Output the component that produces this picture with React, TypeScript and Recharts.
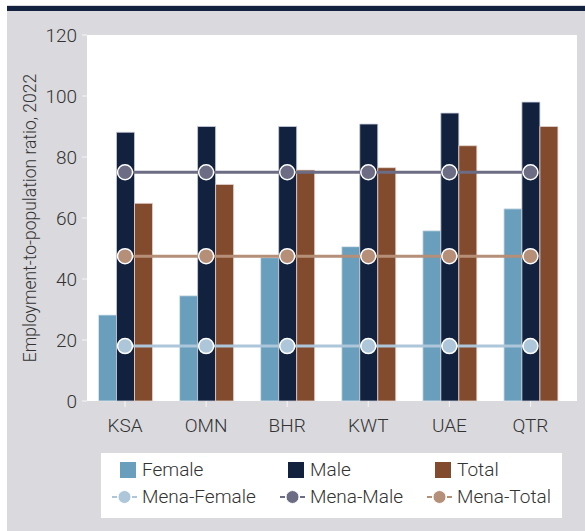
import React from 'react';
import { ComposedChart, Bar, Line, XAxis, YAxis, Legend, Label } from 'recharts';

const categories = ['KSA', 'OMN', 'BHR', 'KWT', 'UAE', 'QTR'];
const femaleValues = [28.2, 34.5, 47, 50.6, 55.8, 63];
const maleValues = [88.1, 90, 90, 90.8, 94.4, 98];
const totalValues = [64.8, 71, 75.7, 76.5, 83.7, 90];
const menaFemaleValues = [18, 18, 18, 18, 18, 18];
const menaMaleValues = [75, 75, 75, 75, 75, 75];
const menaTotalValues = [47.5, 47.5, 47.5, 47.5, 47.5, 47.5];
const yTicks = [0, 20, 40, 60, 80, 100, 120];
const seriesOrder = ['Female', 'Male', 'Total', 'Mena-Female', 'Mena-Male', 'Mena-Total'];
const yAxisTitle = 'Employment-to-population ratio, 2022';

const COLORS: Record<string, string> = {
  Female: '#699fbc',
  Male: '#11213e',
  Total: '#834b2e',
  'Mena-Female': '#aec6da',
  'Mena-Male': '#6c6d84',
  'Mena-Total': '#b58f78',
};

const data = categories.map((c, i) => ({
  category: c,
  Female: femaleValues[i],
  Male: maleValues[i],
  Total: totalValues[i],
  'Mena-Female': menaFemaleValues[i],
  'Mena-Male': menaMaleValues[i],
  'Mena-Total': menaTotalValues[i],
}));

const FONT = 'Roboto, "Liberation Sans", Arial, sans-serif';
const WEIGHT = 300;
const TEXT = '#333333';
const BG = '#dadade';
const Y_TICK_MARGIN = 7.5;

const YTick = (props: any) => {
  const { x, y, payload } = props;
  const axisRight = x + Y_TICK_MARGIN;
  return (
    <g>
      <line x1={axisRight - 2.5} x2={axisRight + 2.5} y1={y} y2={y} stroke="#f2f2f4" strokeWidth={1.2} />
      <text x={x} y={y} dy="0.355em" textAnchor="end" fontSize={19} fontWeight={WEIGHT} fontFamily={FONT} fill={TEXT}>
        {payload.value}
      </text>
    </g>
  );
};

const LegendContent = (props: any) => {
  const payload = [...(props.payload || [])].sort(
    (a: any, b: any) => seriesOrder.indexOf(a.value) - seriesOrder.indexOf(b.value)
  );
  const colX = [11, 179, 326];
  const rowY = [17, 44];
  return (
    <div style={{ position: 'relative', width: 461, height: 65, background: '#ffffff' }}>
      {payload.map((entry: any, i: number) => {
        const col = i % 3;
        const row = Math.floor(i / 3);
        const color = COLORS[entry.value] || entry.color;
        const isSquare = entry.type === 'square';
        return (
          <div
            key={entry.value}
            style={{
              position: 'absolute',
              left: colX[col],
              top: rowY[row] - 12,
              height: 24,
              display: 'flex',
              alignItems: 'center',
              whiteSpace: 'nowrap',
            }}
          >
            <svg width={30} height={24} style={{ display: 'block' }}>
              {isSquare ? (
                <rect x={8} y={4} width={16} height={16} fill={color} />
              ) : (
                <g>
                  <line x1={0} x2={5} y1={12} y2={12} stroke={color} strokeWidth={2} />
                  <line x1={20} x2={25} y1={12} y2={12} stroke={color} strokeWidth={2} />
                  <circle cx={12.5} cy={12} r={6.5} fill={color} stroke="#ffffff" strokeWidth={1} />
                </g>
              )}
            </svg>
            <span style={{ fontFamily: FONT, fontWeight: WEIGHT, fontSize: 19, color: TEXT, lineHeight: '24px' }}>{entry.value}</span>
          </div>
        );
      })}
    </div>
  );
};

const dotStyle = (color: string) => ({ r: 7.5, fill: color, stroke: '#ffffff', strokeWidth: 1.5 });

export default function App() {
  return (
    <div style={{ position: 'absolute', left: 0, top: 0, width: 585, height: 531, background: '#ffffff', overflow: 'hidden' }}>
      <div style={{ position: 'absolute', left: 7, top: 5, right: 0, bottom: 0, background: BG }} />
      <div style={{ position: 'absolute', left: 7, top: 5.5, right: 0, height: 5.5, background: '#13223f' }} />
      <div style={{ position: 'absolute', left: 87, top: 35, width: 490, height: 366, background: '#ffffff' }} />
      <div style={{ position: 'absolute', left: 0, top: 0 }}>
        <ComposedChart
          width={585}
          height={531}
          data={data}
          margin={{ top: 35, right: 14, left: 0, bottom: 35 }}
          barGap={0}
        >
          <XAxis
            dataKey="category"
            axisLine={false}
            tickSize={6}
            tickMargin={12}
            height={30}
            tickLine={{ stroke: '#f2f2f4', strokeWidth: 1.2 }}
            tick={{ fontSize: 19, fontWeight: WEIGHT, fontFamily: FONT, fill: TEXT }}
            interval={0}
          />
          <YAxis
            width={84.5}
            domain={[0, 120]}
            ticks={yTicks}
            axisLine={false}
            tickLine={false}
            tickSize={0}
            tickMargin={Y_TICK_MARGIN}
            tick={<YTick />}
            interval={0}
          >
            <Label
              content={(p: any) => {
                const vb = p.viewBox || {};
                const cx = (vb.x || 0) + 30;
                const cy = (vb.y || 0) + (vb.height || 0) / 2;
                return (
                  <text
                    x={cx}
                    y={cy}
                    transform={`rotate(-90, ${cx}, ${cy})`}
                    textAnchor="middle"
                    dominantBaseline="central"
                    fontSize={17.5}
                    fontWeight={WEIGHT}
                    fontFamily={FONT}
                    fill={TEXT}
                  >
                    {yAxisTitle}
                  </text>
                );
              }}
            />
          </YAxis>
          <Legend
            verticalAlign="bottom"
            content={<LegendContent />}
            wrapperStyle={{ left: 101, top: 453, bottom: 'auto', width: 461, height: 65 }}
          />
          <Bar dataKey="Female" name="Female" fill={COLORS.Female} stroke="#dfe6ee" strokeWidth={0.8} barSize={18} legendType="square" isAnimationActive={false} />
          <Bar dataKey="Male" name="Male" fill={COLORS.Male} stroke="#c9cdd8" strokeWidth={0.8} barSize={18} legendType="square" isAnimationActive={false} />
          <Bar dataKey="Total" name="Total" fill={COLORS.Total} stroke="#e3d6cf" strokeWidth={0.8} barSize={18} legendType="square" isAnimationActive={false} />
          <Line dataKey="Mena-Female" name="Mena-Female" stroke={COLORS['Mena-Female']} strokeWidth={3} dot={dotStyle(COLORS['Mena-Female'])} activeDot={false} legendType="circle" isAnimationActive={false} />
          <Line dataKey="Mena-Male" name="Mena-Male" stroke={COLORS['Mena-Male']} strokeWidth={3} dot={dotStyle(COLORS['Mena-Male'])} activeDot={false} legendType="circle" isAnimationActive={false} />
          <Line dataKey="Mena-Total" name="Mena-Total" stroke={COLORS['Mena-Total']} strokeWidth={3} dot={dotStyle(COLORS['Mena-Total'])} activeDot={false} legendType="circle" isAnimationActive={false} />
        </ComposedChart>
      </div>
    </div>
  );
}
